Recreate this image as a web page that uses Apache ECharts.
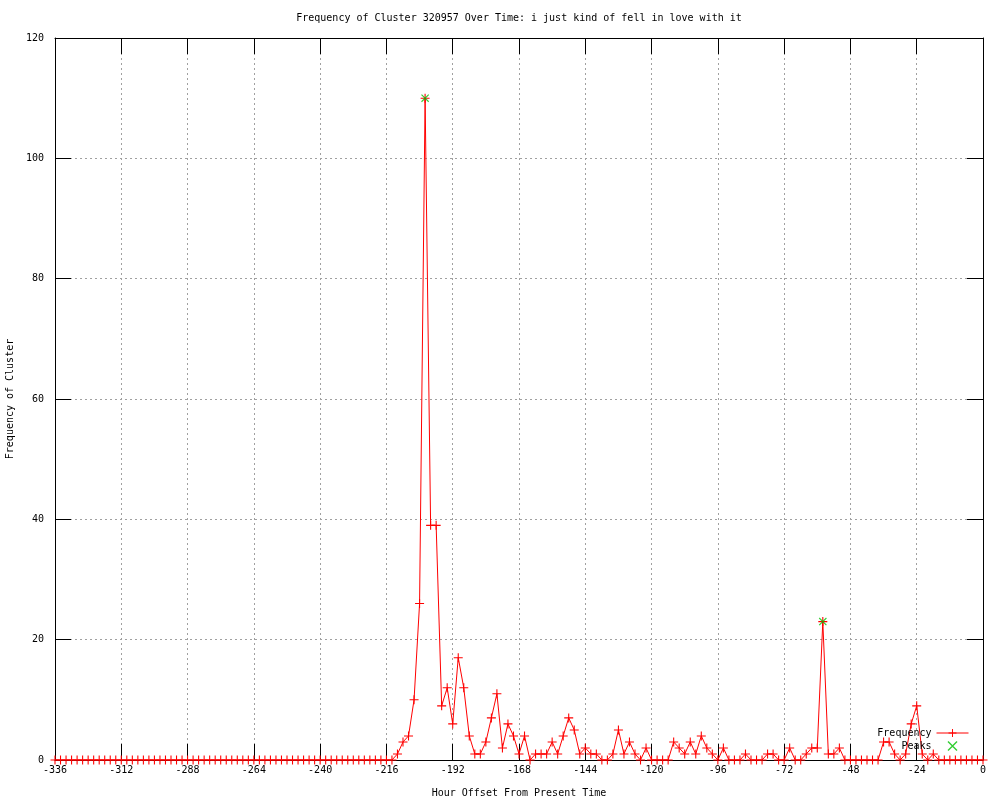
<!DOCTYPE html>
<html>
<head>
<meta charset="utf-8">
<script src="https://cdn.jsdelivr.net/npm/echarts@6/dist/echarts.min.js"></script>
<style>
  html, body { margin: 0; padding: 0; background: #fff; }
  #chart { width: 1000px; height: 800px; }
</style>
</head>
<body>
<div id="chart"></div>
<script>
  // hours from -336 to 0, one sample every 2 hours
  var startHour = -336;
  var hourStep = 2;
  var xTicks = [-336, -312, -288, -264, -240, -216, -192, -168, -144, -120, -96, -72, -48, -24, 0];
  var yTicks = [0, 20, 40, 60, 80, 100, 120];

  // frequency per 2h slot
  var freq = [
    // -336 .. -214 : nothing
    0,0,0,0,0,0,0,0,0,0, 0,0,0,0,0,0,0,0,0,0,
    0,0,0,0,0,0,0,0,0,0, 0,0,0,0,0,0,0,0,0,0,
    0,0,0,0,0,0,0,0,0,0, 0,0,0,0,0,0,0,0,0,0,
    0,0,
    1,3,4,10,26,110,39,39,9,12,   // -212 .. -194
    6,17,12,4,1,1,3,7,11,2,       // -192 .. -174
    6,4,1,4,0,1,1,1,3,1,          // -172 .. -154
    4,7,5,1,2,1,1,0,0,1,          // -152 .. -134
    5,1,3,1,0,2,0,0,0,0,          // -132 .. -114
    3,2,1,3,1,4,2,1,0,2,          // -112 .. -94
    0,0,0,1,0,0,0,1,1,0,          // -92 .. -74
    0,2,0,0,1,2,2,23,1,1,         // -72 .. -54
    2,0,0,0,0,0,0,0,3,3,          // -52 .. -34
    1,0,1,6,9,1,0,1,0,0,          // -32 .. -14
    0,0,0,0,0,0,0                 // -12 .. 0
  ];

  var peakHours = [-202, -58];
  var peakValues = [110, 23];

  var freqData = freq.map(function (v, i) { return [startHour + i * hourStep, v]; });
  var peakData = peakHours.map(function (h, i) { return [h, peakValues[i]]; });

  var FONT = 'DejaVu Sans Mono';
  var plusPath = 'path://M0,4.4H10V5.6H0Z M4.4,0H5.6V10H4.4Z';
  var crossPath = 'path://M0,1L1,0L10,9L9,10Z M9,0L10,1L1,10L0,9Z';
  var gridLine = { show: true, lineStyle: { color: '#a0a0a0', width: 1, type: [2, 3] } };
  var tick = { show: true, inside: true, length: 16, lineStyle: { color: '#000', width: 1 } };
  var axLine = { show: true, onZero: false, lineStyle: { color: '#000', width: 1 } };

  var chart = echarts.init(document.getElementById('chart'));
  chart.setOption({
    backgroundColor: '#fff',
    animation: false,
    graphic: [{
      type: 'text', x: 519, y: 18,
      style: {
        text: 'Frequency of Cluster 320957 Over Time: i just kind of fell in love with it',
        font: '10px "' + FONT + '"', fill: '#000', align: 'center', verticalAlign: 'middle'
      }
    }],
    grid: { left: 55, right: 17, top: 38, bottom: 40, containLabel: false, outerBoundsMode: 'none' },
    legend: {
      orient: 'vertical', align: 'right', right: 31, top: 728, padding: 0,
      itemWidth: 32, itemHeight: 10, itemGap: 3,
      lineStyle: { width: 1 },
      textStyle: { fontFamily: FONT, fontSize: 10, color: '#000' },
      data: ['Frequency', 'Peaks']
    },
    xAxis: [{
      type: 'value', min: -336, max: 0, interval: 24,
      name: 'Hour Offset From Present Time', nameLocation: 'middle', nameGap: 28,
      nameTextStyle: { fontFamily: FONT, fontSize: 10, color: '#000' },
      axisLine: axLine, axisTick: tick, splitLine: gridLine,
      axisLabel: { margin: 5, fontFamily: FONT, fontSize: 10, color: '#000',
        customValues: xTicks }
    }, {
      type: 'value', min: -336, max: 0, interval: 24, position: 'top',
      axisLine: axLine, axisTick: tick, splitLine: { show: false },
      axisLabel: { show: false }
    }],
    yAxis: [{
      type: 'value', min: 0, max: 120, interval: 20,
      name: 'Frequency of Cluster', nameLocation: 'middle', nameGap: 34, nameRotate: 90,
      nameTextStyle: { fontFamily: FONT, fontSize: 10, color: '#000' },
      axisLine: axLine, axisTick: tick, splitLine: gridLine,
      axisLabel: { margin: 11, fontFamily: FONT, fontSize: 10, color: '#000',
        customValues: yTicks }
    }, {
      type: 'value', min: 0, max: 120, interval: 20, position: 'right',
      axisLine: axLine, axisTick: tick, splitLine: { show: false },
      axisLabel: { show: false }
    }],
    series: [{
      name: 'Frequency', type: 'line', data: freqData,
      symbol: plusPath, symbolSize: 9, showSymbol: true, showAllSymbol: true,
      lineStyle: { color: '#ff0000', width: 1 },
      itemStyle: { color: '#ff0000' },
      emphasis: { disabled: true }, z: 3
    }, {
      name: 'Peaks', type: 'scatter', data: peakData,
      symbol: crossPath, symbolSize: 8,
      itemStyle: { color: '#00c000' },
      emphasis: { disabled: true }, z: 4
    }]
  });
</script>
</body>
</html>
